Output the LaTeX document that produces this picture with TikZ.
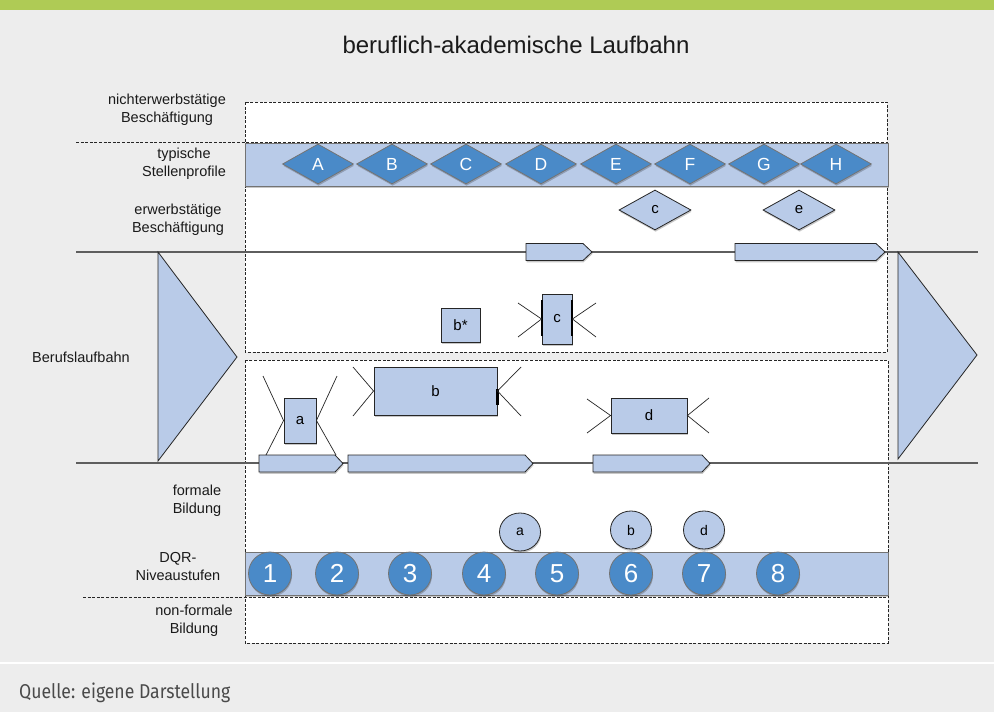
\documentclass[tikz,border=0pt]{standalone}
\usepackage{fontspec}
\setmainfont{Liberation Sans}
\newfontfamily\footfont[FakeStretch=0.88]{Fira Sans}
\usetikzlibrary{shapes.geometric,shadows}

\definecolor{pagebg}{HTML}{EDEDED}
\definecolor{topgreen}{HTML}{AFCB55}
\definecolor{paleblue}{HTML}{B9CBE8}
\definecolor{midblue}{HTML}{4A8AC8}
\definecolor{rulegray}{HTML}{5E5E5E}
\definecolor{inkgray}{HTML}{1A1A1A}
\definecolor{footgray}{HTML}{4A4A4A}

\newcommand\lblfont{\fontsize{14.5}{18}\selectfont}

\tikzset{
  soft/.style={drop shadow={shadow xshift=0.6pt, shadow yshift=-1.8pt, opacity=0.22, fill=black}},
  frame/.style={draw=black!85, line width=0.9pt, dash pattern=on 3pt off 1.6pt, fill=white},
  sepline/.style={draw=black!85, line width=1pt, dash pattern=on 3pt off 1.6pt},
  rowlabel/.style={align=center, font=\lblfont, text=inkgray, inner sep=0pt},
  band/.style={rectangle, draw=black!55, line width=0.8pt, fill=paleblue, inner sep=0pt,
    minimum width=643, minimum height=43, soft},
  profile/.style={diamond, draw=black!55, line width=0.8pt, fill=midblue, inner sep=0pt,
    minimum width=71, minimum height=40, text=white, font=\fontsize{17.5}{20}\selectfont, soft},
  smalldiam/.style={diamond, draw=black!85, line width=0.8pt, fill=paleblue, inner sep=0pt,
    minimum width=72, minimum height=40, font=\fontsize{15}{17}\selectfont, soft},
  unit/.style={rectangle, draw=black!85, line width=0.9pt, fill=paleblue, inner sep=0pt,
    font=\fontsize{15}{17}\selectfont, soft},
  level/.style={circle, draw=black!55, line width=0.8pt, fill=midblue, inner sep=0pt,
    minimum size=43, text=white, font=\fontsize{26}{28}\selectfont, soft},
  degree/.style={ellipse, draw=black!85, line width=0.8pt, fill=paleblue, inner sep=0pt,
    minimum width=41, minimum height=38, font=\fontsize{14}{16}\selectfont, soft},
  track/.style={draw=rulegray, line width=1.2pt},
  stage/.style={draw=black!85, line width=0.8pt, fill=paleblue, soft},
  wedge/.style={draw=black!85, line width=0.8pt, fill=paleblue},
  xline/.style={draw=black!85, line width=0.7pt},
}

\begin{document}
\begin{tikzpicture}[x=1pt,y=-1pt]
  % page background, green head strip and footer rule
  \fill[pagebg] (0,0) rectangle (994,712);
  \useasboundingbox (0,0) rectangle (994,712);
  \fill[topgreen] (0,0) rectangle (994,10);
  \draw[white, line width=2pt] (0,663) -- (994,663);

  \node[font=\fontsize{24}{28}\selectfont, text=inkgray] (title) at (516,45) {beruflich-akademische Laufbahn};

  % dashed areas
  \path[frame] (245,102) rectangle (887,352);
  \path[frame] (245,360) rectangle (888,643);

  % bands
  \node[band] (stellen) at (566.5,164.5) {};
  \node[band] (dqr) at (566.5,573.5) {};

  \draw[sepline] (76,142) -- (887,142);
  \draw[sepline] (83,597) -- (888,597);

  % row labels
  \node[rowlabel] (lnicht) at (167,110) {nichterwerbstätige\\Beschäftigung};
  \node[rowlabel] (ltyp) at (184,164) {typische\\Stellenprofile};
  \node[rowlabel] (lerw) at (178,220) {erwerbstätige\\Beschäftigung};
  \node[rowlabel, anchor=west] (lberuf) at (32,357) {Berufslaufbahn};
  \node[rowlabel] (lformal) at (197,501) {formale\\Bildung};
  \node[rowlabel] (ldqr) at (178,567) {DQR-\\Niveaustufen};
  \node[rowlabel] (lnonformal) at (194,621) {non-formale\\Bildung};

  % career tracks
  \coordinate (trackTL) at (76,252);
  \coordinate (trackTR) at (978,252);
  \coordinate (trackBL) at (76,463);
  \coordinate (trackBR) at (978,463);
  \draw[track] (trackTL) -- (trackTR);
  \draw[track] (trackBL) -- (trackBR);

  \draw[wedge] (158,252) -- (158,461) -- (237,357) -- cycle;
  \draw[wedge] (898,252) -- (898,459) -- (977,355) -- cycle;

  % stage bars on the employment track
  \draw[stage] (526,243.5) -- (583,243.5) -- (592,252) -- (583,260.5) -- (526,260.5) -- cycle;
  \draw[stage] (735,243.5) -- (876,243.5) -- (885,252) -- (876,260.5) -- (735,260.5) -- cycle;
  % stage bars on the education track
  \draw[stage] (259,455) -- (335,455) -- (343,463.5) -- (335,472) -- (259,472) -- cycle;
  \draw[stage] (348,455) -- (525,455) -- (533,463.5) -- (525,472) -- (348,472) -- cycle;
  \draw[stage] (593,455) -- (702,455) -- (710,463.5) -- (702,472) -- (593,472) -- cycle;

  % job profiles
  \node[profile] (pA) at (318,164) {A};
  \node[profile] (pB) at (392,164) {B};
  \node[profile] (pC) at (466,164) {C};
  \node[profile] (pD) at (541,164) {D};
  \node[profile] (pE) at (616,164) {E};
  \node[profile] (pF) at (690,164) {F};
  \node[profile] (pG) at (764,164) {G};
  \node[profile] (pH) at (836,164) {H};

  \node[smalldiam] (dc) at (655,210) {c};
  \node[smalldiam] (de) at (799,210) {e};

  % units
  \node[unit, minimum width=39, minimum height=34] (ubstar) at (460.5,325) {b*};
  \node[unit, minimum width=30, minimum height=50] (uc) at (557,319) {c};
  \node[unit, minimum width=32, minimum height=45] (ua) at (300,420.5) {a};
  \node[unit, minimum width=123, minimum height=48] (ub) at (435.5,391) {b};
  \node[unit, minimum width=76, minimum height=35] (ud) at (649,415.5) {d};

  \draw[line width=2pt] (542,300) -- (542,336);
  \draw[line width=2pt] (572,300) -- (572,336);
  \draw[line width=3pt] (497,389) -- (497,405);

  % crossing lines at the unit borders
  \coordinate (c1) at (518,303);  \coordinate (c2) at (518,337);
  \coordinate (c3) at (596,303);  \coordinate (c4) at (596,337);
  \draw[xline] (c1) -- (uc.west) -- (c2);
  \draw[xline] (c3) -- (uc.east) -- (c4);

  \coordinate (a1) at (263,376);  \coordinate (a2) at (266,455);
  \coordinate (a3) at (337,376);  \coordinate (a4) at (336,455);
  \draw[xline] (a1) -- (ua.west) -- (a2);
  \draw[xline] (a3) -- (ua.east) -- (a4);

  \coordinate (b1) at (353,367);  \coordinate (b2) at (353,416);
  \coordinate (b3) at (521,367);  \coordinate (b4) at (521,416);
  \draw[xline] (b1) -- (ub.west) -- (b2);
  \draw[xline] (b3) -- (ub.east) -- (b4);

  \coordinate (d1) at (587,399);  \coordinate (d2) at (587,433);
  \coordinate (d3) at (709,398);  \coordinate (d4) at (709,433);
  \draw[xline] (d1) -- (ud.west) -- (d2);
  \draw[xline] (d3) -- (ud.east) -- (d4);

  % degrees
  \node[degree] (ea) at (520,532) {a};
  \node[degree] (eb) at (631,530) {b};
  \node[degree] (ed) at (704,530) {d};

  % qualification levels
  \node[level] (n1) at (270,573.5) {1};
  \node[level] (n2) at (337,573.5) {2};
  \node[level] (n3) at (410,573.5) {3};
  \node[level] (n4) at (484,573.5) {4};
  \node[level] (n5) at (557,573.5) {5};
  \node[level] (n6) at (631,573.5) {6};
  \node[level] (n7) at (704,573.5) {7};
  \node[level] (n8) at (778,573.5) {8};

  % source line
  \node[anchor=base west, inner sep=0pt, font=\footfont\fontsize{20}{24}\selectfont, text=footgray] (source) at (19,698) {Quelle: eigene Darstellung};
\end{tikzpicture}
\end{document}
